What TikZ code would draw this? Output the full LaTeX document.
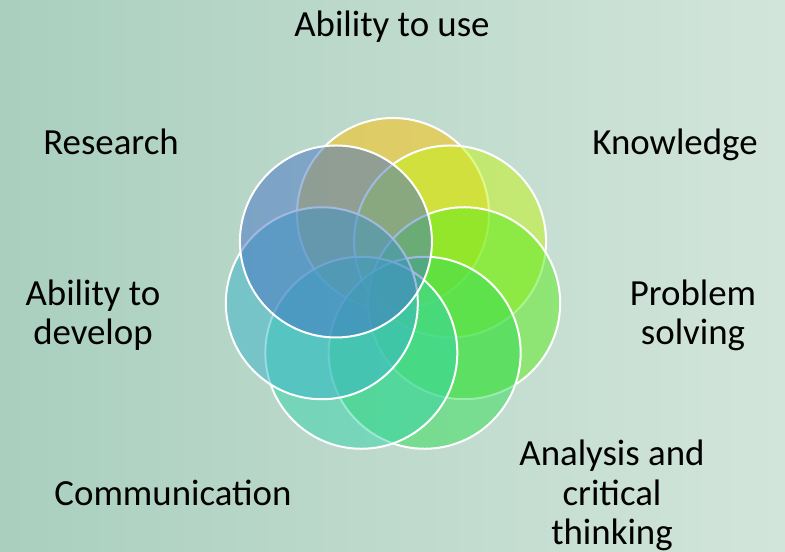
\documentclass[tikz,border=0pt]{standalone}
\usepackage{fontspec}
\setmainfont{Carlito}
\definecolor{bgleft}{HTML}{A9CFBF}
\definecolor{bgright}{HTML}{D3E5DB}
\definecolor{usecol}{HTML}{FFC000}
\definecolor{knowcol}{HTML}{C4F414}
\definecolor{probcol}{HTML}{58EC18}
\definecolor{anacol}{HTML}{30DC54}
\definecolor{commcol}{HTML}{34D4A8}
\definecolor{devcol}{HTML}{38B4C8}
\definecolor{rescol}{HTML}{4472C4}
\tikzset{
  ring/.style={circle, draw=white, line width=2bp, fill opacity=0.5,
    minimum size=192bp, inner sep=0pt},
  lbl/.style={font=\fontsize{37}{40}\selectfont, align=center,
    inner sep=0pt, anchor=base}
}
\begin{document}
\begin{tikzpicture}[x=1bp,y=1bp]
      \shade[left color=bgleft, right color=bgright] (-393,-265) rectangle (392,287);
      \useasboundingbox (-393,-265) rectangle (392,287);
      % seven overlapping rings, the last one on top
      \draw
        (90.00:73) node[ring, fill=usecol] (use){}
        (38.57:73) node[ring, fill=knowcol] (know){}
        (-12.86:73) node[ring, fill=probcol] (prob){}
        (-64.29:73) node[ring, fill=anacol] (ana){}
        (-115.71:73) node[ring, fill=commcol] (comm){}
        (-167.14:73) node[ring, fill=devcol] (dev){}
        (141.43:73) node[ring, fill=rescol] (res){};
      % labels (base sits on the last line)
      \begin{scope}[every node/.style={lbl}]
        \node (uselbl) at (-1,250) {Ability to use};
        \node (knowlbl) at (282,132) {Knowledge};
        \node (problbl) at (300,-58) {Problem\\solving};
        \node (analbl) at (219,-258) {Analysis and\\critical\\thinking};
        \node (commlbl) at (-220,-219) {Communication};
        \node (devlbl) at (-300,-58) {Ability to\\develop};
        \node (reslbl) at (-282,132) {Research};
      \end{scope}
    \end{tikzpicture}
\end{document}
